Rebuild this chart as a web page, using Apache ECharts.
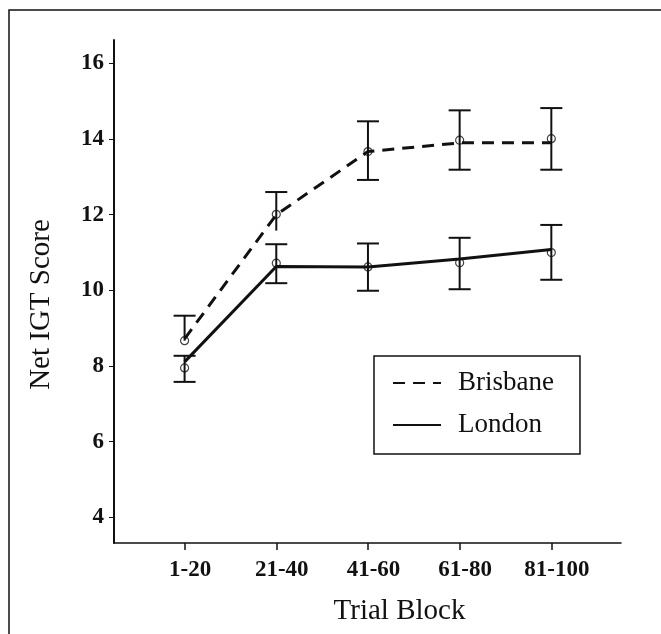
<!DOCTYPE html>
<html>
  <head>
    <meta charset="utf-8" />
    <title>Net IGT Score by Trial Block</title>
    <script src="https://cdn.jsdelivr.net/npm/echarts@6/dist/echarts.min.js"></script>
    <style>
      html, body { margin: 0; padding: 0; background: #fff; }
      #chart { width: 661px; height: 634px; }
    </style>
  </head>
  <body>
    <div id="chart"></div>

    <script type="text/javascript">
      // data
      var blocks = ["1-20", "21-40", "41-60", "61-80", "81-100"];
      var yTicks = [4, 6, 8, 10, 12, 14, 16];

      var brisbaneLine = [8.72, 12.0, 13.67, 13.9, 13.9];
      var brisbaneMean = [8.67, 12.01, 13.67, 13.97, 14.01];
      var brisbaneHigh = [9.33, 12.6, 14.47, 14.76, 14.82];
      var brisbaneLow = [8.67, 11.58, 12.92, 13.19, 13.19];
      var brisbaneLowCap = [0, 0, 1, 1, 1];

      var londonLine = [8.11, 10.63, 10.62, 10.83, 11.08];
      var londonMean = [7.95, 10.72, 10.62, 10.73, 11.0];
      var londonHigh = [8.27, 11.22, 11.24, 11.39, 11.73];
      var londonLow = [7.58, 10.19, 9.99, 10.03, 10.28];
      var londonLowCap = [1, 1, 1, 1, 1];

      var serif = "Liberation Serif";

      function pairs(arr) {
        return arr.map(function (v, i) { return [i, v]; });
      }
      function errRows(lo, hi, cap) {
        return lo.map(function (v, i) { return [i, v, hi[i], cap[i]]; });
      }

      function renderErr(params, api) {
        var x = api.value(0);
        var pHi = api.coord([x, api.value(2)]);
        var pLo = api.coord([x, api.value(1)]);
        var w = 11;
        var st = { stroke: "#111", lineWidth: 2 };
        var kids = [
          { type: "line", shape: { x1: pHi[0], y1: pHi[1], x2: pLo[0], y2: pLo[1] }, style: st },
          { type: "line", shape: { x1: pHi[0] - w, y1: pHi[1], x2: pHi[0] + w, y2: pHi[1] }, style: st }
        ];
        if (api.value(3)) {
          kids.push({ type: "line", shape: { x1: pLo[0] - w, y1: pLo[1], x2: pLo[0] + w, y2: pLo[1] }, style: st });
        }
        return { type: "group", children: kids };
      }

      var chart = echarts.init(document.getElementById("chart"));

      var option = {
        backgroundColor: "#fff",
        animation: false,
        textStyle: { fontFamily: serif },
        graphic: [
          {
            type: "polyline",
            shape: { points: [[9, 634], [9, 10], [661, 10]] },
            style: { stroke: "#111", lineWidth: 1.5, fill: null }
          }
        ],
        grid: { left: 114, top: 40, right: 40, bottom: 91 },
        legend: {
          data: ["Brisbane", "London"],
          orient: "vertical",
          left: 374,
          top: 356,
          padding: [13, 26, 15, 18],
          itemWidth: 48,
          itemHeight: 14,
          itemGap: 14,
          borderColor: "#111",
          borderWidth: 1.5,
          itemStyle: { color: "rgba(0,0,0,0)", borderWidth: 0, opacity: 0 },
          textStyle: {
            fontFamily: serif,
            fontSize: 27,
            color: "#111",
            lineHeight: 28,
            padding: [0, 0, 0, 12]
          }
        },
        xAxis: {
          type: "value",
          min: -0.77,
          max: 4.76,
          name: "Trial Block",
          nameLocation: "middle",
          nameGap: 54,
          nameTextStyle: {
            fontFamily: serif,
            fontSize: 29,
            color: "#111",
            padding: [0, 0, 0, 64]
          },
          axisLine: { onZero: false, lineStyle: { color: "#111", width: 1.5 } },
          axisTick: {
            customValues: [0, 1, 2, 3, 4],
            length: 7,
            lineStyle: { color: "#111", width: 1.5 }
          },
          axisLabel: {
            customValues: [0, 1, 2, 3, 4],
            formatter: function (v) { return blocks[Math.round(v)]; },
            fontFamily: serif,
            fontWeight: "bold",
            fontSize: 23,
            color: "#111",
            margin: 16,
            padding: [0, 0, 0, 11]
          },
          splitLine: { show: false }
        },
        yAxis: {
          type: "value",
          min: 3.32,
          max: 16.62,
          name: "Net IGT Score",
          nameLocation: "middle",
          nameGap: 58,
          nameTextStyle: {
            fontFamily: serif,
            fontSize: 29,
            color: "#111",
            padding: [0, 26, 0, 0]
          },
          axisLine: { show: true, onZero: false, lineStyle: { color: "#111", width: 2 } },
          axisTick: {
            show: true,
            customValues: yTicks,
            length: 5,
            lineStyle: { color: "#111", width: 1 }
          },
          axisLabel: {
            customValues: yTicks,
            fontFamily: serif,
            fontWeight: "bold",
            fontSize: 23,
            color: "#111",
            margin: 10
          },
          splitLine: { show: false }
        },
        series: [
          {
            name: "Brisbane",
            type: "line",
            data: pairs(brisbaneLine),
            symbol: "none",
            color: "#111",
            lineStyle: { color: "#111", width: 3, type: [12, 8] },
            z: 3
          },
          {
            name: "London",
            type: "line",
            data: pairs(londonLine),
            symbol: "none",
            color: "#111",
            lineStyle: { color: "#111", width: 3 },
            z: 3
          },
          {
            name: "Brisbane SE",
            type: "custom",
            renderItem: renderErr,
            encode: { x: 0, y: [1, 2] },
            data: errRows(brisbaneLow, brisbaneHigh, brisbaneLowCap),
            z: 2
          },
          {
            name: "London SE",
            type: "custom",
            renderItem: renderErr,
            encode: { x: 0, y: [1, 2] },
            data: errRows(londonLow, londonHigh, londonLowCap),
            z: 2
          },
          {
            name: "Brisbane mean",
            type: "scatter",
            data: pairs(brisbaneMean),
            symbol: "circle",
            symbolSize: 8,
            itemStyle: { color: "rgba(255,255,255,0)", borderColor: "#111", borderWidth: 1.2 },
            z: 4
          },
          {
            name: "London mean",
            type: "scatter",
            data: pairs(londonMean),
            symbol: "circle",
            symbolSize: 8,
            itemStyle: { color: "rgba(255,255,255,0)", borderColor: "#111", borderWidth: 1.2 },
            z: 4
          }
        ]
      };

      chart.setOption(option);
    </script>
  </body>
</html>
